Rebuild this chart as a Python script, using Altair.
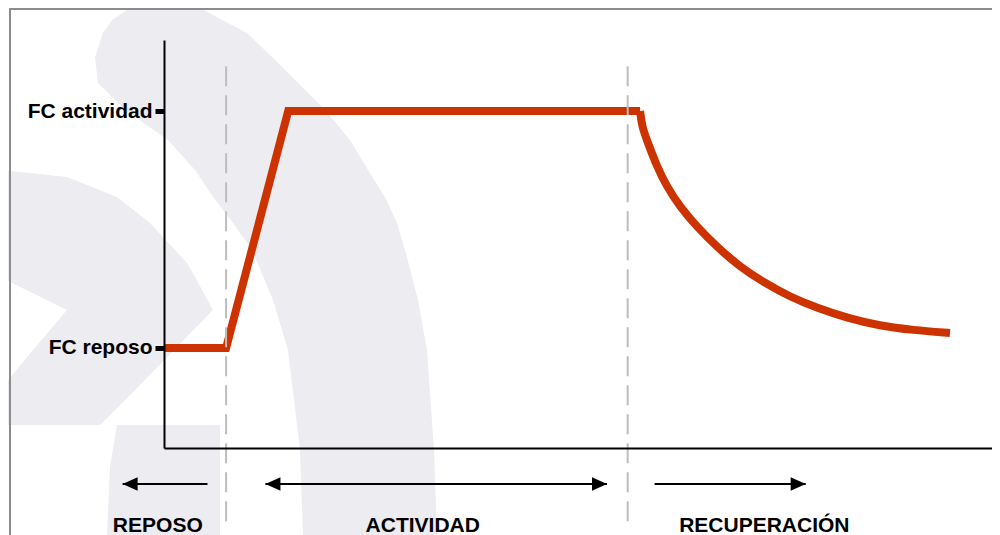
import altair as alt
import pandas as pd

# ---------------- data ----------------
# heart-rate curve: time (arbitrary minutes) vs heart rate (bpm)
tiempo = [0, 3.0, 6.0, 23.0, 23.09, 23.38, 23.82, 24.30, 24.93, 25.75, 26.71,
          27.83, 28.94, 30.24, 31.55, 33.00, 34.59, 36.18, 37.97]
fc = [70, 70, 160, 160, 154.0, 147.9, 138.8, 131.2, 123.6, 116.0, 108.4,
      100.8, 95.1, 89.4, 85.2, 81.4, 78.4, 76.8, 75.7]
# index where the smooth recovery curve begins (plateau end)
inicio_recuperacion = 3

fc_ticks = [70, 160]
fc_tick_labels = ["FC reposo", "FC actividad"]

limites_fase = [3.0, 22.4]

fases = ["REPOSO", "ACTIVIDAD", "RECUPERACIÓN"]
fase_centro = [-0.3, 12.5, 29.0]
flecha_desde = [-2.0, 4.9, 23.7]
flecha_hasta = [2.1, 21.4, 31.0]
punta_izq = [True, True, False]
punta_der = [False, True, True]

# ---------------- layout ----------------
X_DOMAIN = [0, 40]
Y_DOMAIN = [32, 187]
W, H = 828, 408
PAD = {"left": 156, "top": 32, "right": 0, "bottom": 87}
ARROW_Y = 18.3
LABEL_Y = 0.0
DASH_TOP = 177
DASH_BOTTOM = 2.0

# background watermark outline (picture pixels: y, left x, right x)
wm_shapes = {
    "band": ([8, 20, 33, 57, 83, 110, 140, 170, 197, 223, 250, 300, 350, 450, 535],
             [130, 112, 103, 95, 98, 125, 168, 195, 213, 233, 252, 273, 288, 300, 303],
             [200, 222, 247, 272, 298, 325, 350, 368, 385, 397, 405, 418, 427, 434, 437]),
    "chevron": ([170, 177, 197, 223, 263, 277, 310, 350, 390, 425],
                [0, 0, 0, 0, 0, 0, 67, 33, 0, 0],
                [0, 67, 117, 150, 187, 195, 213, 174, 135, 100]),
    "block": ([425, 467, 535], [117, 110, 107], [220, 220, 220]),
}


def px_to_x(px):
    return X_DOMAIN[0] + (px - (8 + PAD["left"])) * (X_DOMAIN[1] - X_DOMAIN[0]) / W


def py_to_y(py):
    return Y_DOMAIN[0] + ((8 + PAD["top"] + H) - py) * (Y_DOMAIN[1] - Y_DOMAIN[0]) / H


rows = []
for name, (ys, xls, xrs) in wm_shapes.items():
    for yy, xl, xr in zip(ys, xls, xrs):
        rows.append({"shape": name, "y": py_to_y(yy), "x": px_to_x(xl), "x2": px_to_x(xr)})
wm_df = pd.DataFrame(rows)

lin_df = pd.DataFrame({"x": tiempo[:inicio_recuperacion + 1], "y": fc[:inicio_recuperacion + 1]})
rec_df = pd.DataFrame({"x": tiempo[inicio_recuperacion:], "y": fc[inicio_recuperacion:]})
dash_df = pd.DataFrame({"x": limites_fase, "y": DASH_TOP, "y2": DASH_BOTTOM})
arrow_df = pd.DataFrame({"x": flecha_desde, "x2": flecha_hasta, "y": ARROW_Y})
left_heads = pd.DataFrame({"x": [d for d, p in zip(flecha_desde, punta_izq) if p], "y": ARROW_Y})
right_heads = pd.DataFrame({"x": [h for h, p in zip(flecha_hasta, punta_der) if p], "y": ARROW_Y})
label_df = pd.DataFrame({"fase": fases, "x": fase_centro, "y": LABEL_Y})
frame_df = pd.DataFrame({"a": [0]})

x_scale = alt.Scale(domain=X_DOMAIN, nice=False, zero=False)
y_scale = alt.Scale(domain=Y_DOMAIN, nice=False, zero=False)

label_expr = (f"datum.value == {fc_ticks[0]} ? '{fc_tick_labels[0]}' : "
              f"'{fc_tick_labels[1]}'")

x_axis = alt.Axis(labels=False, ticks=False, title="", grid=False,
                  domainColor="black", domainWidth=2, zindex=1)
y_axis = alt.Axis(values=fc_ticks, labelExpr=label_expr, title="", grid=False,
                  domainColor="black", domainWidth=2, tickColor="black",
                  tickWidth=5, tickSize=9, labelPadding=3,
                  labelFont="Liberation Sans", labelFontSize=21,
                  labelFontWeight="bold", labelColor="black", zindex=1)

X = alt.X("x:Q", scale=x_scale, axis=x_axis, title="")
Y = alt.Y("y:Q", scale=y_scale, axis=y_axis, title="")

watermark = alt.Chart(wm_df).mark_area(orient="horizontal", color="#ECECF1").encode(
    y=Y, x=X, x2="x2:Q", detail="shape:N",
)

frame = alt.Chart(frame_df).mark_rect(fillOpacity=0, stroke="#8C8C8C", strokeWidth=2).encode(
    x=alt.value(-154), x2=alt.value(1200), y=alt.value(-31), y2=alt.value(1000)
)

line_style = dict(color="#CC3300", strokeWidth=8, strokeJoin="miter", strokeCap="butt")
curve_lin = alt.Chart(lin_df).mark_line(**line_style).encode(x=X, y=Y)
curve_rec = alt.Chart(rec_df).mark_line(interpolate="basis", **line_style).encode(x=X, y=Y)

dashes = alt.Chart(dash_df).mark_rule(color="#BDBDBD", strokeWidth=2, strokeDash=[20, 9]).encode(
    x=X, y=Y, y2="y2:Q",
)

shafts = alt.Chart(arrow_df).mark_rule(color="black", strokeWidth=2).encode(
    x=X, x2="x2:Q", y=Y,
)

lheads = alt.Chart(left_heads).mark_point(
    shape="M0,0L2,-0.9L2,0.9Z", size=225, filled=True, color="black", opacity=1, strokeWidth=0
).encode(x=X, y=Y)

rheads = alt.Chart(right_heads).mark_point(
    shape="M0,0L-2,-0.9L-2,0.9Z", size=225, filled=True, color="black", opacity=1, strokeWidth=0
).encode(x=X, y=Y)

labels = alt.Chart(label_df).mark_text(
    font="Liberation Sans", fontSize=21, fontWeight="bold", color="black",
    align="center", baseline="alphabetic"
).encode(x=X, y=Y, text="fase:N")

chart = alt.layer(
    watermark, frame, curve_lin, curve_rec, dashes, shafts, lheads, rheads, labels
).properties(
    width=W, height=H,
    autosize=alt.AutoSizeParams(type="none"),
    padding=PAD,
    background="white",
).configure_view(strokeWidth=0)

chart.save("out.html", embed_options={"renderer": "svg", "actions": False})
